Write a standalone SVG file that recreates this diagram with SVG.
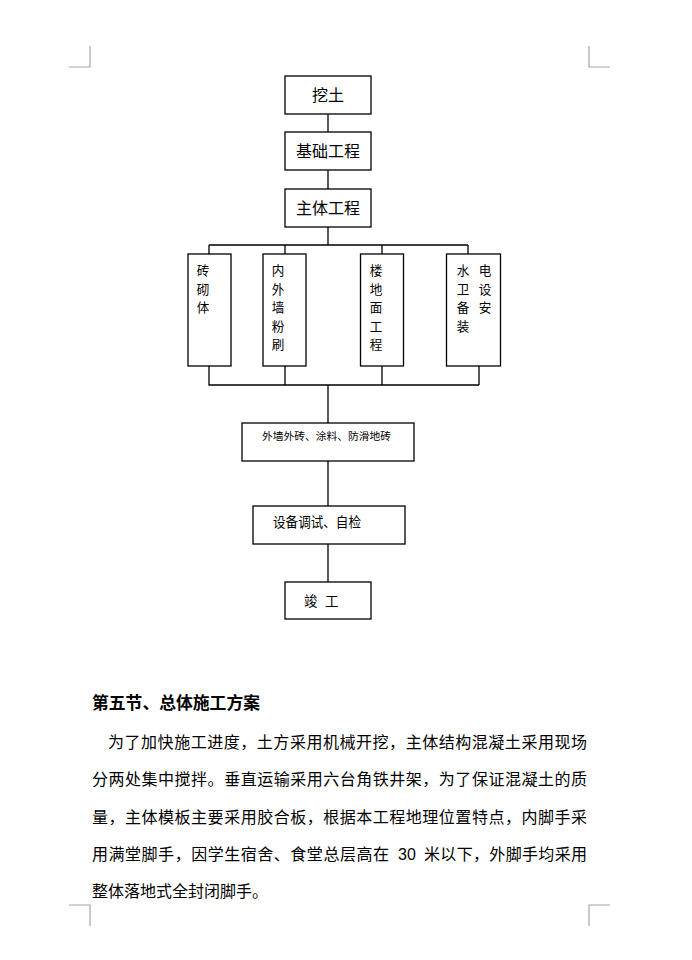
<svg xmlns="http://www.w3.org/2000/svg" width="692" height="960" viewBox="0 0 692 960">
<style>
.bx{fill:#fff;stroke:#000;stroke-width:1.3}
.cn{stroke:#000;stroke-width:1.3;fill:none}
.mk{stroke:#a6a6a6;stroke-width:1.2;fill:none}
text{font-family:"Noto Sans CJK SC","Liberation Sans",sans-serif;fill:#000}
.t16{font-size:16px}
.t14{font-size:13.5px}
.tv{font-size:12.6px}
.t11{font-size:10.5px}
.h{font-size:16.5px;font-weight:bold}
.p{font-size:16px}
</style>
<rect width="692" height="960" fill="#fff"/>
<g id="marks">
<path class="mk" d="M90,46V67H69M589,46V67H610M69,905H90V926M610,905H589V926"/>
</g>
<g id="connectors">
<path class="cn" d="M328,114V132M328,170V189M328,227V245M209,245H468M209,245V254M285,245V254M382,245V254M468,245V254"/>
<path class="cn" d="M209,366V385H479M479,366V385M285,366V385M382,366V385M328,385V423M328,461V506M328,544V582"/>
</g>
<g id="n1"><rect class="bx" x="285" y="76" width="86" height="38"/><text class="t16" x="328" y="101" text-anchor="middle">挖土</text></g>
<g id="n2"><rect class="bx" x="285" y="132" width="86" height="38"/><text class="t16" x="328" y="157" text-anchor="middle">基础工程</text></g>
<g id="n3"><rect class="bx" x="285" y="189" width="86" height="38"/><text class="t16" x="328" y="214" text-anchor="middle">主体工程</text></g>
<g id="n4"><rect class="bx" x="188" y="254" width="43" height="112"/>
<text class="tv" text-anchor="middle"><tspan x="203" y="275">砖</tspan><tspan x="203" y="293.5">砌</tspan><tspan x="203" y="312">体</tspan></text></g>
<g id="n5"><rect class="bx" x="263" y="254" width="43" height="112"/>
<text class="tv" text-anchor="middle"><tspan x="278" y="275">内</tspan><tspan x="278" y="293.5">外</tspan><tspan x="278" y="312">墙</tspan><tspan x="278" y="330.5">粉</tspan><tspan x="278" y="349">刷</tspan></text></g>
<g id="n6"><rect class="bx" x="360.5" y="254" width="43" height="112"/>
<text class="tv" text-anchor="middle"><tspan x="376" y="275">楼</tspan><tspan x="376" y="293.5">地</tspan><tspan x="376" y="312">面</tspan><tspan x="376" y="330.5">工</tspan><tspan x="376" y="349">程</tspan></text></g>
<g id="n7"><rect class="bx" x="446.5" y="254" width="54" height="112"/>
<text class="tv" text-anchor="middle"><tspan x="463" y="275">水</tspan><tspan x="463" y="293.5">卫</tspan><tspan x="463" y="312">备</tspan><tspan x="463" y="330.5">装</tspan></text>
<text class="tv" text-anchor="middle"><tspan x="485" y="275">电</tspan><tspan x="485" y="293.5">设</tspan><tspan x="485" y="312">安</tspan></text></g>
<g id="n8"><rect class="bx" x="242" y="423" width="172" height="38"/><text class="t11" x="262" y="440" textLength="129" lengthAdjust="spacingAndGlyphs">外墙外砖、涂料、防滑地砖</text></g>
<g id="n9"><rect class="bx" x="253" y="506" width="152" height="38"/><text class="t14" x="273" y="527" textLength="88" lengthAdjust="spacingAndGlyphs">设备调试、自检</text></g>
<g id="n10"><rect class="bx" x="285" y="582" width="86" height="37"/><text class="t14" x="304" y="606">竣</text><text class="t14" x="325" y="606">工</text></g>
<g id="body">
<text class="h" x="92" y="709" textLength="168" lengthAdjust="spacingAndGlyphs">第五节、总体施工方案</text>
<text class="p" x="108" y="748" textLength="479" lengthAdjust="spacing">为了加快施工进度，土方采用机械开挖，主体结构混凝土采用现场</text>
<text class="p" x="92" y="785" textLength="495" lengthAdjust="spacing">分两处集中搅拌。垂直运输采用六台角铁井架，为了保证混凝土的质</text>
<text class="p" x="92" y="823" textLength="495" lengthAdjust="spacing">量，主体模板主要采用胶合板，根据本工程地理位置特点，内脚手采</text>
<text class="p" x="92" y="860" textLength="297" lengthAdjust="spacing">用满堂脚手，因学生宿舍、食堂总层高在</text>
<text class="p" x="398" y="860" style="font-family:'Liberation Sans',sans-serif">30</text>
<text class="p" x="424" y="860" textLength="163" lengthAdjust="spacing">米以下，外脚手均采用</text>
<text class="p" x="92" y="897">整体落地式全封闭脚手。</text>
</g>
</svg>
